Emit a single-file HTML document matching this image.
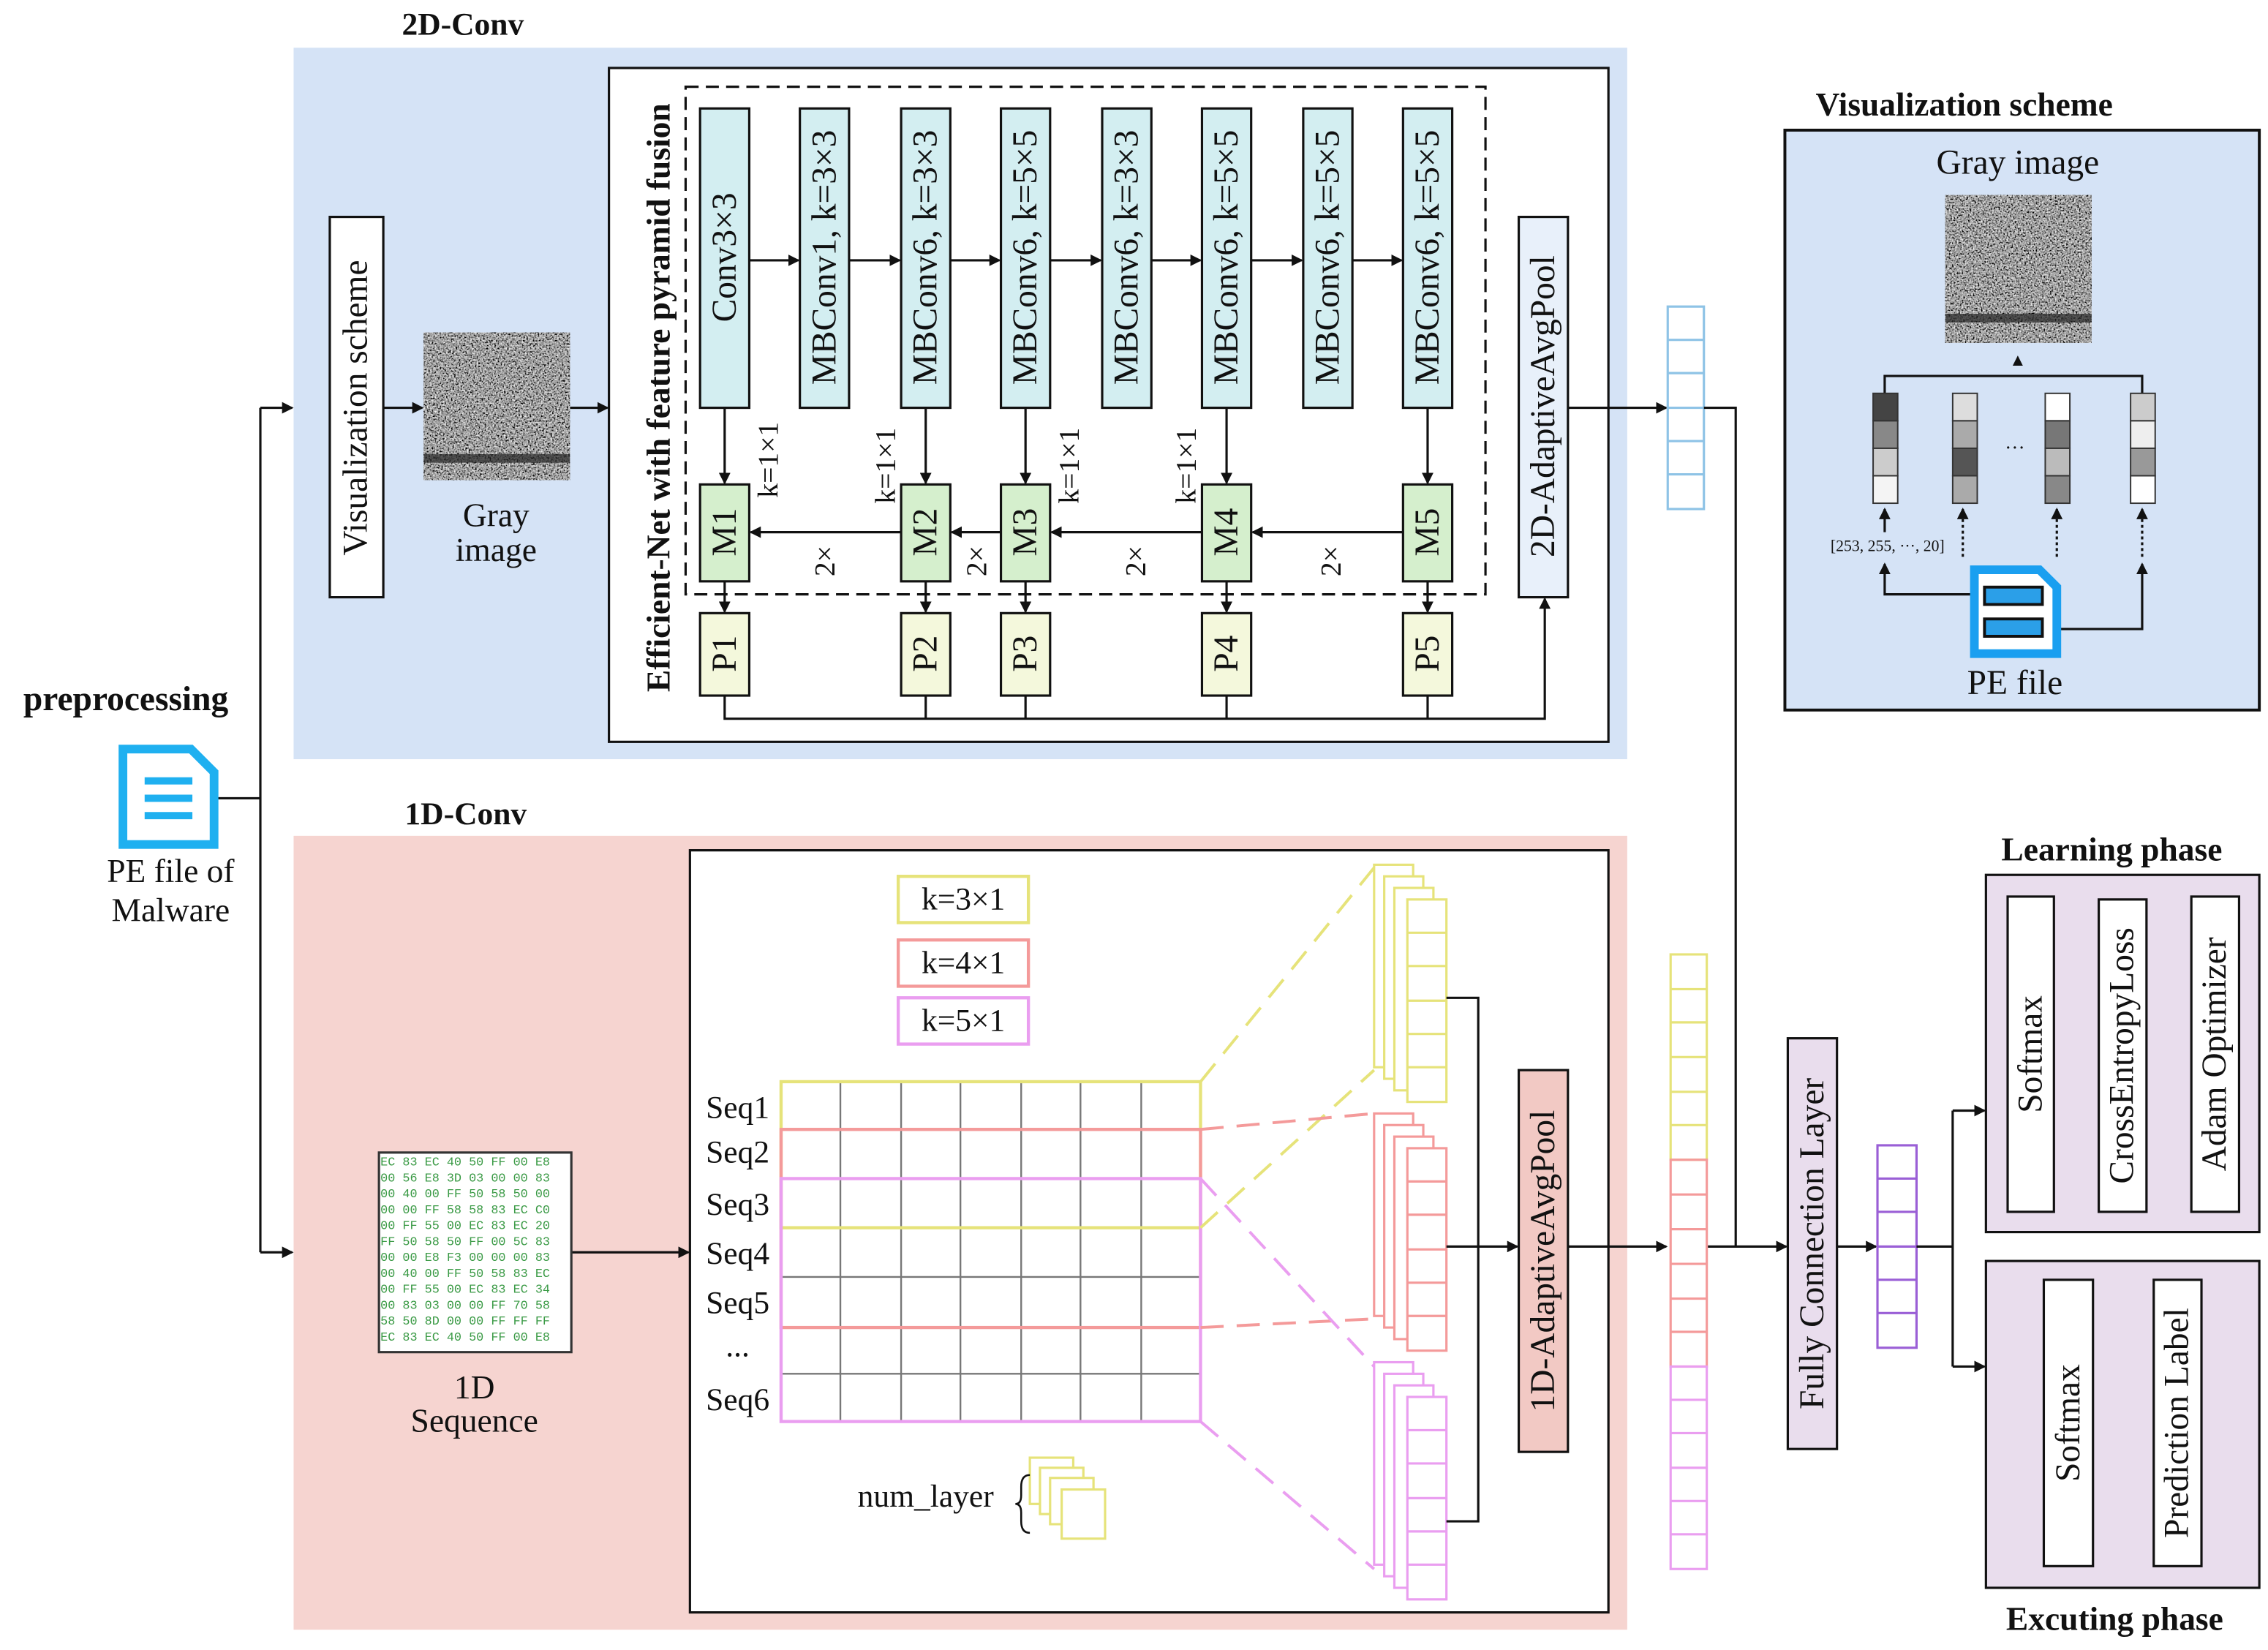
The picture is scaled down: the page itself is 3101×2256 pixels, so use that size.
<!DOCTYPE html>
<html><head><meta charset="utf-8"><style>html,body{margin:0;padding:0;background:#fff}svg{display:block}text{font-family:"Liberation Serif",serif;fill:#111}</style></head><body>
<svg width="3101" height="2256" viewBox="0 0 1568 1141" preserveAspectRatio="none" xmlns="http://www.w3.org/2000/svg">
<defs>
<marker id="a" markerWidth="8" markerHeight="8" refX="7" refY="4" orient="auto" markerUnits="userSpaceOnUse"><path d="M0,0 L8,4 L0,8 z" fill="#111"/></marker>
<filter id="nz" x="0" y="0" width="1" height="1"><feTurbulence type="fractalNoise" baseFrequency="0.9" numOctaves="2" seed="4"/><feColorMatrix type="matrix" values="1.2 1.2 0 0 -0.85  1.2 1.2 0 0 -0.85  1.2 1.2 0 0 -0.85  0 0 0 0 1"/></filter>
</defs>
<g stroke-width="1.6" fill="none" stroke="#111">
<rect x="203" y="33" width="922" height="492" fill="#d5e3f6" stroke="none"/>
<rect x="203" y="578" width="922" height="549" fill="#f6d4d0" stroke="none"/>
<rect x="421" y="47" width="691" height="466" fill="#fff"/>
<rect x="477" y="588" width="635" height="527" fill="#fff"/>
<rect x="474" y="60" width="553" height="351" stroke-dasharray="9,5"/>
<g fill="#d3eef1">
<rect x="484" y="75" width="34" height="207"/><rect x="553" y="75" width="34" height="207"/><rect x="623" y="75" width="34" height="207"/><rect x="692" y="75" width="34" height="207"/><rect x="762" y="75" width="34" height="207"/><rect x="831" y="75" width="34" height="207"/><rect x="901" y="75" width="34" height="207"/><rect x="970" y="75" width="34" height="207"/>
</g>
<g marker-end="url(#a)">
<line x1="518" y1="180" x2="552" y2="180"/><line x1="587" y1="180" x2="622" y2="180"/><line x1="657" y1="180" x2="691" y2="180"/><line x1="726" y1="180" x2="761" y2="180"/><line x1="796" y1="180" x2="830" y2="180"/><line x1="865" y1="180" x2="900" y2="180"/><line x1="935" y1="180" x2="969" y2="180"/>
<line x1="501" y1="282" x2="501" y2="334"/><line x1="640" y1="282" x2="640" y2="334"/><line x1="709" y1="282" x2="709" y2="334"/><line x1="848" y1="282" x2="848" y2="334"/><line x1="987" y1="282" x2="987" y2="334"/>
<line x1="970" y1="368" x2="866" y2="368"/><line x1="831" y1="368" x2="727" y2="368"/><line x1="692" y1="368" x2="658" y2="368"/><line x1="623" y1="368" x2="519" y2="368"/>
<line x1="501" y1="402" x2="501" y2="423"/><line x1="640" y1="402" x2="640" y2="423"/><line x1="709" y1="402" x2="709" y2="423"/><line x1="848" y1="402" x2="848" y2="423"/><line x1="987" y1="402" x2="987" y2="423"/>
<polyline points="501,481 501,497 1068,497 1068,414"/>
<line x1="265" y1="282" x2="292" y2="282"/><line x1="394" y1="282" x2="420" y2="282"/>
<line x1="1084" y1="282" x2="1152" y2="282"/>
<line x1="180" y1="282" x2="202" y2="282"/><line x1="180" y1="866" x2="202" y2="866"/>
<line x1="395" y1="866" x2="476" y2="866"/>
<line x1="1022" y1="862" x2="1049" y2="862"/>
<line x1="1084" y1="862" x2="1152" y2="862"/>
<line x1="1180" y1="862" x2="1235" y2="862"/>
<line x1="1270" y1="862" x2="1297" y2="862"/>
<line x1="1350" y1="768" x2="1372" y2="768"/><line x1="1350" y1="945" x2="1372" y2="945"/>
<line x1="1420" y1="730" x2="1450" y2="730"/><line x1="1484" y1="730" x2="1514" y2="730"/>
<line x1="1447" y1="995" x2="1488" y2="995"/>
<line x1="1395" y1="260" x2="1395" y2="241"/>
</g>
<g fill="#d5efcd"><rect x="484" y="335" width="34" height="67"/><rect x="623" y="335" width="34" height="67"/><rect x="692" y="335" width="34" height="67"/><rect x="831" y="335" width="34" height="67"/><rect x="970" y="335" width="34" height="67"/></g>
<g fill="#f4f8dc"><rect x="484" y="424" width="34" height="57"/><rect x="623" y="424" width="34" height="57"/><rect x="692" y="424" width="34" height="57"/><rect x="831" y="424" width="34" height="57"/><rect x="970" y="424" width="34" height="57"/></g>
<line x1="640" y1="481" x2="640" y2="497"/><line x1="709" y1="481" x2="709" y2="497"/><line x1="848" y1="481" x2="848" y2="497"/><line x1="987" y1="481" x2="987" y2="497"/>
<rect x="1050" y="150" width="34" height="263" fill="#e8f0fa"/>
<rect x="228" y="150" width="37" height="263" fill="#fff"/>
<polyline points="150,552 180,552"/><line x1="180" y1="282" x2="180" y2="866"/>
<g stroke="#8ec3e6"><rect x="1153" y="212" width="25" height="140"/><line x1="1153" y1="235" x2="1178" y2="235"/><line x1="1153" y1="258" x2="1178" y2="258"/><line x1="1153" y1="282" x2="1178" y2="282"/><line x1="1153" y1="305" x2="1178" y2="305"/><line x1="1153" y1="328" x2="1178" y2="328"/></g>
<polyline points="1178,282 1200,282 1200,862"/>
<g stroke="#e6e37a"><rect x="1155" y="660" width="25" height="142"/><line x1="1155" y1="684" x2="1180" y2="684"/><line x1="1155" y1="707" x2="1180" y2="707"/><line x1="1155" y1="731" x2="1180" y2="731"/><line x1="1155" y1="755" x2="1180" y2="755"/><line x1="1155" y1="778" x2="1180" y2="778"/></g>
<g stroke="#f49a9a"><rect x="1155" y="802" width="25" height="143"/><line x1="1155" y1="826" x2="1180" y2="826"/><line x1="1155" y1="850" x2="1180" y2="850"/><line x1="1155" y1="874" x2="1180" y2="874"/><line x1="1155" y1="898" x2="1180" y2="898"/><line x1="1155" y1="921" x2="1180" y2="921"/></g>
<g stroke="#ea9ef0"><rect x="1155" y="945" width="25" height="140"/><line x1="1155" y1="968" x2="1180" y2="968"/><line x1="1155" y1="991" x2="1180" y2="991"/><line x1="1155" y1="1015" x2="1180" y2="1015"/><line x1="1155" y1="1038" x2="1180" y2="1038"/><line x1="1155" y1="1061" x2="1180" y2="1061"/></g>
<rect x="1236" y="718" width="34" height="284" fill="#e9dded"/>
<g stroke="#9a5fd6"><rect x="1298" y="792" width="27" height="140"/><line x1="1298" y1="815" x2="1325" y2="815"/><line x1="1298" y1="838" x2="1325" y2="838"/><line x1="1298" y1="862" x2="1325" y2="862"/><line x1="1298" y1="885" x2="1325" y2="885"/><line x1="1298" y1="908" x2="1325" y2="908"/></g>
<polyline points="1325,862 1350,862"/><line x1="1350" y1="768" x2="1350" y2="945"/>
<rect x="1373" y="605" width="189" height="247" fill="#e9dded"/>
<rect x="1373" y="872" width="189" height="226" fill="#e9dded"/>
<rect x="1388" y="620" width="32" height="218" fill="#fff"/><rect x="1451" y="622" width="33" height="216" fill="#fff"/><rect x="1515" y="620" width="33" height="218" fill="#fff"/>
<rect x="1413" y="885" width="34" height="198" fill="#fff"/><rect x="1489" y="885" width="33" height="198" fill="#fff"/>
<rect x="1050" y="740" width="34" height="264" fill="#f2c9c4"/>
<rect x="621" y="606" width="90" height="32" stroke="#e6e37a" stroke-width="2.2"/>
<rect x="621" y="650" width="90" height="32" stroke="#f49a9a" stroke-width="2.2"/>
<rect x="621" y="690" width="90" height="32" stroke="#ea9ef0" stroke-width="2.2"/>
<g stroke="#777" stroke-width="1.2">
<line x1="581" y1="748" x2="581" y2="983"/><line x1="623" y1="748" x2="623" y2="983"/><line x1="664" y1="748" x2="664" y2="983"/><line x1="706" y1="748" x2="706" y2="983"/><line x1="747" y1="748" x2="747" y2="983"/><line x1="789" y1="748" x2="789" y2="983"/>
<line x1="540" y1="883" x2="830" y2="883"/><line x1="540" y1="950" x2="830" y2="950"/>
</g>
<rect x="540" y="748" width="290" height="101" stroke="#e6e37a" stroke-width="2.2"/>
<rect x="540" y="781" width="290" height="137" stroke="#f49a9a" stroke-width="2.2"/>
<rect x="540" y="815" width="290" height="168" stroke="#ea9ef0" stroke-width="2.2"/>
<g stroke-dasharray="16,9" stroke-width="2">
<line x1="830" y1="748" x2="950" y2="600" stroke="#e6e37a"/><line x1="830" y1="849" x2="950" y2="740" stroke="#e6e37a"/>
<line x1="830" y1="781" x2="950" y2="770" stroke="#f49a9a"/><line x1="830" y1="918" x2="950" y2="912" stroke="#f49a9a"/>
<line x1="830" y1="815" x2="950" y2="945" stroke="#ea9ef0"/><line x1="830" y1="983" x2="950" y2="1085" stroke="#ea9ef0"/>
</g>
<g stroke="#e6e37a" fill="#fff"><rect x="950" y="598" width="27" height="140"/><rect x="957" y="606" width="27" height="140"/><rect x="964" y="614" width="27" height="140"/><rect x="973" y="622" width="27" height="140"/>
<path d="M973,645H1000M973,668H1000M973,692H1000M973,715H1000M973,738H1000"/></g>
<g stroke="#f49a9a" fill="#fff"><rect x="950" y="770" width="27" height="140"/><rect x="957" y="778" width="27" height="140"/><rect x="964" y="786" width="27" height="140"/><rect x="973" y="794" width="27" height="140"/>
<path d="M973,817H1000M973,840H1000M973,864H1000M973,887H1000M973,910H1000"/></g>
<g stroke="#ea9ef0" fill="#fff"><rect x="950" y="942" width="27" height="140"/><rect x="957" y="950" width="27" height="140"/><rect x="964" y="958" width="27" height="140"/><rect x="973" y="966" width="27" height="140"/>
<path d="M973,989H1000M973,1012H1000M973,1036H1000M973,1059H1000M973,1082H1000"/></g>
<polyline points="1000,690 1022,690 1022,1052 1000,1052"/><line x1="1000" y1="862" x2="1022" y2="862"/>
<g stroke="#e6e37a" fill="#fff"><rect x="712" y="1008" width="30" height="32"/><rect x="719" y="1015" width="30" height="32"/><rect x="726" y="1022" width="30" height="32"/><rect x="734" y="1030" width="30" height="34"/></g>
<path d="M712,1020 q-6,0 -6,8 v6 q0,6 -4,6 q4,0 4,6 v6 q0,8 6,8" stroke-width="1.3"/>
<rect x="262" y="797" width="133" height="138" fill="#fff" stroke="#333"/>
<rect x="293" y="230" width="101" height="102" filter="url(#nz)" stroke="none"/>
<rect x="293" y="314" width="101" height="6" fill="#222" opacity="0.7" stroke="none"/>
<rect x="1234" y="90" width="328" height="401" fill="#d5e3f6" stroke-width="2"/>
<rect x="1345" y="135" width="101" height="102" filter="url(#nz)" stroke="none"/>
<rect x="1345" y="217" width="101" height="6" fill="#222" opacity="0.7" stroke="none"/>
<polyline points="1303,272 1303,260 1481,260 1481,272"/>
<g stroke="#333" stroke-width="1">
<rect x="1295" y="272" width="17" height="19" fill="#444"/><rect x="1295" y="291" width="17" height="19" fill="#888"/><rect x="1295" y="310" width="17" height="19" fill="#ccc"/><rect x="1295" y="329" width="17" height="19" fill="#f4f4f4"/>
<rect x="1350" y="272" width="17" height="19" fill="#ddd"/><rect x="1350" y="291" width="17" height="19" fill="#aaa"/><rect x="1350" y="310" width="17" height="19" fill="#555"/><rect x="1350" y="329" width="17" height="19" fill="#aaa"/>
<rect x="1414" y="272" width="17" height="19" fill="#fff"/><rect x="1414" y="291" width="17" height="19" fill="#777"/><rect x="1414" y="310" width="17" height="19" fill="#bbb"/><rect x="1414" y="329" width="17" height="19" fill="#888"/>
<rect x="1473" y="272" width="17" height="19" fill="#ccc"/><rect x="1473" y="291" width="17" height="19" fill="#eee"/><rect x="1473" y="310" width="17" height="19" fill="#999"/><rect x="1473" y="329" width="17" height="19" fill="#fff"/>
</g>
<g marker-end="url(#a)"><line x1="1303" y1="368" x2="1303" y2="352"/><line x1="1357" y1="385" x2="1357" y2="352" stroke-dasharray="2,2"/><line x1="1422" y1="385" x2="1422" y2="352" stroke-dasharray="2,2"/><line x1="1481" y1="385" x2="1481" y2="352" stroke-dasharray="2,2"/>
<polyline points="1370,411 1303,411 1303,390"/><polyline points="1410,435 1481,435 1481,390"/></g>
<path d="M85,518 H132 L148,534 V584 H85 Z" stroke="#1fb0f0" stroke-width="6" fill="#fff"/>
<path d="M100,540H133M100,552H133M100,564H133" stroke="#1fb0f0" stroke-width="5"/>
<path d="M1365,394 H1410 L1422,406 V452 H1365 Z" stroke="#1a9ff0" stroke-width="6" fill="#fff"/>
<rect x="1372" y="406" width="40" height="12" stroke-width="2" fill="#2b9fe8"/><rect x="1372" y="428" width="40" height="12" stroke-width="2" fill="#2b9fe8"/>
</g>
<g font-size="8.5">
<text x="263" y="806" style="font-family:'Liberation Mono',monospace;fill:#3a9a45">EC 83 EC 40 50 FF 00 E8</text>
<text x="263" y="817" style="font-family:'Liberation Mono',monospace;fill:#3a9a45">00 56 E8 3D 03 00 00 83</text>
<text x="263" y="828" style="font-family:'Liberation Mono',monospace;fill:#3a9a45">00 40 00 FF 50 58 50 00</text>
<text x="263" y="839" style="font-family:'Liberation Mono',monospace;fill:#3a9a45">00 00 FF 58 58 83 EC C0</text>
<text x="263" y="850" style="font-family:'Liberation Mono',monospace;fill:#3a9a45">00 FF 55 00 EC 83 EC 20</text>
<text x="263" y="861" style="font-family:'Liberation Mono',monospace;fill:#3a9a45">FF 50 58 50 FF 00 5C 83</text>
<text x="263" y="872" style="font-family:'Liberation Mono',monospace;fill:#3a9a45">00 00 E8 F3 00 00 00 83</text>
<text x="263" y="883" style="font-family:'Liberation Mono',monospace;fill:#3a9a45">00 40 00 FF 50 58 83 EC</text>
<text x="263" y="894" style="font-family:'Liberation Mono',monospace;fill:#3a9a45">00 FF 55 00 EC 83 EC 34</text>
<text x="263" y="905" style="font-family:'Liberation Mono',monospace;fill:#3a9a45">00 83 03 00 00 FF 70 58</text>
<text x="263" y="916" style="font-family:'Liberation Mono',monospace;fill:#3a9a45">58 50 8D 00 00 FF FF FF</text>
<text x="263" y="927" style="font-family:'Liberation Mono',monospace;fill:#3a9a45">EC 83 EC 40 50 FF 00 E8</text>
</g>
<g font-size="22" text-anchor="middle">
<text x="320" y="24" font-weight="bold" font-size="22">2D-Conv</text>
<text x="322" y="570" font-weight="bold" font-size="22">1D-Conv</text>
<text x="87" y="491" font-weight="bold" font-size="24">preprocessing</text>
<text x="118" y="610" font-size="23">PE file of</text>
<text x="118" y="637" font-size="23">Malware</text>
<text x="343" y="364" font-size="23">Gray</text>
<text x="343" y="388" font-size="23">image</text>
<text x="328" y="967" font-size="23">1D</text>
<text x="328" y="990" font-size="23">Sequence</text>
<text x="1358" y="80" font-weight="bold" font-size="23">Visualization scheme</text>
<text x="1395" y="120" font-size="24">Gray image</text>
<text x="1393" y="480" font-size="24">PE file</text>
<text x="1393" y="314" font-size="14">···</text>
<text x="1305" y="381" font-size="11">[253, 255, ···, 20]</text>
<text x="1460" y="595" font-weight="bold" font-size="23">Learning phase</text>
<text x="1462" y="1127" font-weight="bold" font-size="23">Excuting phase</text>
<text x="666" y="629">k=3×1</text>
<text x="666" y="673">k=4×1</text>
<text x="666" y="713">k=5×1</text>
<text x="510" y="773">Seq1</text><text x="510" y="804">Seq2</text><text x="510" y="840">Seq3</text><text x="510" y="874">Seq4</text><text x="510" y="908">Seq5</text><text x="510" y="938">...</text><text x="510" y="975">Seq6</text>
<text x="640" y="1042">num_layer</text>
<text x="1395" y="253" font-size="12">▲</text>
</g>
<g font-size="24" text-anchor="middle" dominant-baseline="central">
<text transform="translate(246,282) rotate(-90)">Visualization scheme</text>
<text transform="translate(455,275) rotate(-90)" font-weight="bold" font-size="23">Efficient-Net with feature pyramid fusion</text>
<text transform="translate(501,178) rotate(-90)">Conv3×3</text>
<text transform="translate(570,178) rotate(-90)">MBConv1, k=3×3</text>
<text transform="translate(640,178) rotate(-90)">MBConv6, k=3×3</text>
<text transform="translate(709,178) rotate(-90)">MBConv6, k=5×5</text>
<text transform="translate(779,178) rotate(-90)">MBConv6, k=3×3</text>
<text transform="translate(848,178) rotate(-90)">MBConv6, k=5×5</text>
<text transform="translate(918,178) rotate(-90)">MBConv6, k=5×5</text>
<text transform="translate(987,178) rotate(-90)">MBConv6, k=5×5</text>
<text transform="translate(501,368) rotate(-90)">M1</text><text transform="translate(640,368) rotate(-90)">M2</text><text transform="translate(709,368) rotate(-90)">M3</text><text transform="translate(848,368) rotate(-90)">M4</text><text transform="translate(987,368) rotate(-90)">M5</text>
<text transform="translate(501,452) rotate(-90)">P1</text><text transform="translate(640,452) rotate(-90)">P2</text><text transform="translate(709,452) rotate(-90)">P3</text><text transform="translate(848,452) rotate(-90)">P4</text><text transform="translate(987,452) rotate(-90)">P5</text>
<g font-size="20"><text transform="translate(531,318) rotate(-90)">k=1×1</text><text transform="translate(612,322) rotate(-90)">k=1×1</text><text transform="translate(739,322) rotate(-90)">k=1×1</text><text transform="translate(820,322) rotate(-90)">k=1×1</text>
<text transform="translate(570,388) rotate(-90)">2×</text><text transform="translate(675,388) rotate(-90)">2×</text><text transform="translate(785,388) rotate(-90)">2×</text><text transform="translate(920,388) rotate(-90)">2×</text></g>
<text transform="translate(1067,281) rotate(-90)">2D-AdaptiveAvgPool</text>
<text transform="translate(1067,872) rotate(-90)">1D-AdaptiveAvgPool</text>
<text transform="translate(1253,860) rotate(-90)">Fully Connection Layer</text>
<text transform="translate(1404,729) rotate(-90)">Softmax</text>
<text transform="translate(1467,730) rotate(-90)">CrossEntropyLoss</text>
<text transform="translate(1531,729) rotate(-90)">Adam Optimizer</text>
<text transform="translate(1430,984) rotate(-90)">Softmax</text>
<text transform="translate(1505,984) rotate(-90)">Prediction Label</text>
</g>
</svg>
</body></html>
